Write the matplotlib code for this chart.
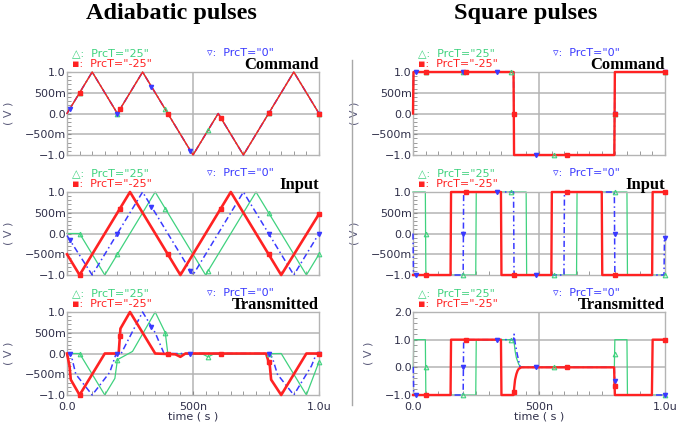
import numpy as np
import matplotlib
matplotlib.use("Agg")
import matplotlib.pyplot as plt
from matplotlib.lines import Line2D

# ---------------- data ----------------
series_names = ['PrcT="25"', 'PrcT="-25"', 'PrcT="0"']
x_ticks = [0.0, 0.5, 1.0]
x_tick_labels = ["0.0", "500n", "1.0u"]
y_ticks_std = [-1.0, -0.5, 0.0, 0.5, 1.0]
y_tick_labels_std = ["\u22121.0", "\u2212500m", "0.0", "500m", "1.0"]
y_ticks_sq_tx = [-1.0, 0.0, 1.0, 2.0]
y_tick_labels_sq_tx = ["\u22121.0", "0.0", "1.0", "2.0"]

# marker times (us) for each series
green_mark_t = [0.05, 0.2, 0.39, 0.56, 0.8, 1.0]
red_mark_t = [0.05, 0.21, 0.4, 0.61, 0.8, 1.0]
blue_mark_t = [0.01, 0.2, 0.335, 0.49, 0.8, 1.0]

# Adiabatic: command (all three identical)
adi_cmd_t = [0, .1, .2, .3, .5, .6, .7, .9, 1.0]
adi_cmd_v = [0, 1, 0, 1, -1, 0, -1, 1, 0]

# Adiabatic: input
adi_in_green_t = [0, .05, .15, .35, .55, .75, .95, 1.0]
adi_in_green_v = [0, 0, -1, 1, -1, 1, -1, -.5]
adi_in_red_t = [0, .05, .25, .45, .65, .85, 1.0]
adi_in_red_v = [-.5, -1, 1, -1, 1, -1, .47]
adi_in_blue_t = [0, .1, .3, .5, .7, .9, 1.0]
adi_in_blue_v = [-.05, -1, 1, -1, 1, -1, 0]

# Adiabatic: transmitted
adi_tx_green_t = [0, .05, .15, .19, .2, .23, .26, .35, .39, .40, .54, .56, .58, .85, .95, 1.0]
adi_tx_green_v = [0, 0, -1, -.6, -.15, -.05, .05, 1, .5, 0, -.02, -.08, -.02, 0, -1, -.2]
adi_tx_red_t = [0, .01, .015, .05, .15, .205, .212, .25, .35, .43, .45, .47, .79, .805, .81, .85, .95, 1.0]
adi_tx_red_v = [0, -.3, -.63, -1, 0, 0, .6, 1, 0, -.02, -.08, 0, 0, -.3, -.63, -1, 0, 0]
adi_tx_blue_t = [0, .015, .035, .1, .17, .195, .215, .3, .35, .385, .8, .815, .835, .9, .97, .99, 1.0]
adi_tx_blue_v = [0, 0, -.5, -1, -.45, 0, 0, 1, .5, 0, 0, -.1, -.5, -1, -.3, 0, 0]

# Square: command (edges in us, levels between edges)
sq_cmd_edges = [0.001, 0.4, 0.8]
sq_cmd_levels = [0, 1, -1, 1]

# Square: input
sq_in_green_edges = [0.05, 0.25, 0.45, 0.65, 0.85]
sq_in_green_levels = [1, -1, 1, -1, 1, -1]
sq_in_red_edges = [0.15, 0.35, 0.55, 0.75, 0.95]
sq_in_red_levels = [-1, 1, -1, 1, -1, 1]
sq_in_blue_edges = [0.001, 0.2, 0.4, 0.6, 0.8, 0.997]
sq_in_blue_levels = [0, -1, 1, -1, 1, -1, -0.1]

# Square: transmitted
sq_tx_green_t = [0, .001, .003, .049, .051, .249, .251, .4, .405, .41, .42, .43, .799, .801, .849, .851, 1.0]
sq_tx_green_v = [0, 0, 1, 1, -1, -1, 1, 1, .6, .35, .1, 0, 0, 1, 1, -1, -1]
sq_tx_red_t = [0, .149, .151, .349, .351, .399, .402, .405, .41, .415, .42, .43, .798, .801, .948, .951, 1.0]
sq_tx_red_v = [-1, -1, 1, 1, -1, -1, -.7, -.45, -.25, -.12, -.05, 0, 0, -1, -1, 1, 1]
sq_tx_blue_t = [0, .001, .003, .199, .201, .399, .401, .405, .413, .425, .799, .801, 1.0]
sq_tx_blue_v = [0, 0, -1, -1, 1, 1, 1.2, .9, .5, 0, 0, -1, -1]

# ---------------- style ----------------
GREEN = "#3fd27e"
RED = "#ff2222"
BLUE = "#3a3aff"
GRID = "#b4b4b4"
TICKC = "#30304a"


def steps(edges, levels, w=0.002):
    t, v = [0.0], [levels[0]]
    for e, lv in zip(edges, levels[1:]):
        t += [max(e - w / 2, 0.0), e + w / 2]
        v += [v[-1], lv]
    t.append(1.0)
    v.append(levels[-1])
    return t, v


fig = plt.figure(figsize=(6.76, 4.25), dpi=100)
W, H = 676.0, 425.0

col_left = [67, 413]
col_w = 252
row_top = [72, 192, 312]
row_h = 83


def make_ax(c, r):
    l = col_left[c] / W
    b = 1 - (row_top[r] + row_h) / H
    return fig.add_axes([l, b, col_w / W, row_h / H])


def style_ax(ax, yt, ytl, bottom):
    ax.set_xlim(0, 1.0)
    ax.set_ylim(yt[0], yt[-1])
    for s in ax.spines.values():
        s.set_color(GRID)
        s.set_linewidth(1.0)
    ax.set_xticks(x_ticks)
    ax.set_xticks(np.arange(0, 1.0001, 0.05), minor=True)
    ax.set_yticks(yt)
    step = 0.1 if (yt[-1] - yt[0]) <= 2 else 0.2
    ax.set_yticks(np.arange(yt[0], yt[-1] + 1e-6, step), minor=True)
    ax.set_yticklabels(ytl, fontsize=8, color=TICKC, family="DejaVu Sans")
    if bottom:
        ax.set_xticklabels(x_tick_labels, fontsize=8, color=TICKC, family="DejaVu Sans")
        ax.set_xlabel("time ( s )", fontsize=8, color=TICKC, labelpad=0)
    else:
        ax.set_xticklabels([])
    ax.tick_params(which="both", direction="in", length=3, color="#8a8a8a",
                   top=False, right=False)
    ax.tick_params(axis="y", pad=1)
    ax.tick_params(axis="x", pad=5)
    for y in yt[1:-1]:
        ax.axhline(y, color=GRID, lw=1.1, zorder=0)
    ax.axvline(0.5, color=GRID, lw=1.1, zorder=0)
    ax.set_ylabel("( V )", fontsize=8, color="#5a5a7a", labelpad=8)


def legend_and_title(ax, title):
    kw = dict(transform=ax.transAxes, fontsize=8, va="center", ha="left",
              family="DejaVu Sans")
    ax.text(0.018, 1.23, "\u25b3:  " + series_names[0], color=GREEN, **kw)
    ax.text(0.018, 1.10, "\u25aa:  " + series_names[1], color=RED, **kw)
    ax.text(0.555, 1.23, "\u25bf:  " + series_names[2], color=BLUE, **kw)
    ax.text(1.0, 1.036, title, transform=ax.transAxes, ha="right", va="baseline",
            fontsize=12, fontweight="bold", family="Liberation Serif", color="black")


def draw(ax, g, r, b, red_lw=1.9):
    gt, gv = g
    rt, rv = r
    bt, bv = b
    ax.plot(gt, gv, color=GREEN, lw=0.9, zorder=2, clip_on=False)
    ax.plot(bt, bv, color=BLUE, lw=1.1, ls=(0, (4, 2, 1, 2)), zorder=3, clip_on=False)
    ax.plot(rt, rv, color=RED, lw=red_lw, zorder=4, clip_on=False)
    ax.plot(green_mark_t, np.interp(green_mark_t, gt, gv), ls="none", marker="^",
            ms=3.3, mfc="none", mec=GREEN, mew=0.8, zorder=5, clip_on=False)
    ax.plot(blue_mark_t, np.interp(blue_mark_t, bt, bv), ls="none", marker="v",
            ms=3, color=BLUE, zorder=5, clip_on=False)
    ax.plot(red_mark_t, np.interp(red_mark_t, rt, rv), ls="none", marker="s",
            ms=3, color=RED, zorder=6, clip_on=False)


titles = ["Command", "Input", "Transmitted"]

# Adiabatic column
adi_data = [
    ((adi_cmd_t, adi_cmd_v), (adi_cmd_t, adi_cmd_v), (adi_cmd_t, adi_cmd_v)),
    ((adi_in_green_t, adi_in_green_v), (adi_in_red_t, adi_in_red_v), (adi_in_blue_t, adi_in_blue_v)),
    ((adi_tx_green_t, adi_tx_green_v), (adi_tx_red_t, adi_tx_red_v), (adi_tx_blue_t, adi_tx_blue_v)),
]
for r in range(3):
    ax = make_ax(0, r)
    style_ax(ax, y_ticks_std, y_tick_labels_std, r == 2)
    g, rr, b = adi_data[r]
    draw(ax, g, rr, b, red_lw=1.0 if r == 0 else 1.9)
    legend_and_title(ax, titles[r])

# Square column
sq_cmd = steps(sq_cmd_edges, sq_cmd_levels)
sq_data = [
    (sq_cmd, sq_cmd, sq_cmd),
    (steps(sq_in_green_edges, sq_in_green_levels), steps(sq_in_red_edges, sq_in_red_levels),
     steps(sq_in_blue_edges, sq_in_blue_levels)),
    ((sq_tx_green_t, sq_tx_green_v), (sq_tx_red_t, sq_tx_red_v), (sq_tx_blue_t, sq_tx_blue_v)),
]
for r in range(3):
    ax = make_ax(1, r)
    if r == 2:
        style_ax(ax, y_ticks_sq_tx, y_tick_labels_sq_tx, True)
    else:
        style_ax(ax, y_ticks_std, y_tick_labels_std, False)
    g, rr, b = sq_data[r]
    draw(ax, g, rr, b, red_lw=1.7)
    legend_and_title(ax, titles[r])

# column titles
fig.text(171 / W, 1 - 14 / H, "Adiabatic pulses", ha="center", va="center",
         fontsize=17.5, fontweight="bold", family="Liberation Serif")
fig.text(526 / W, 1 - 14 / H, "Square pulses", ha="center", va="center",
         fontsize=17.5, fontweight="bold", family="Liberation Serif")

# separator line
fig.add_artist(Line2D([352 / W, 352 / W], [1 - 60 / H, 1 - 405 / H],
                      transform=fig.transFigure, color="#a8a8a8", lw=1.0))

fig.savefig("out.png", dpi=100)
